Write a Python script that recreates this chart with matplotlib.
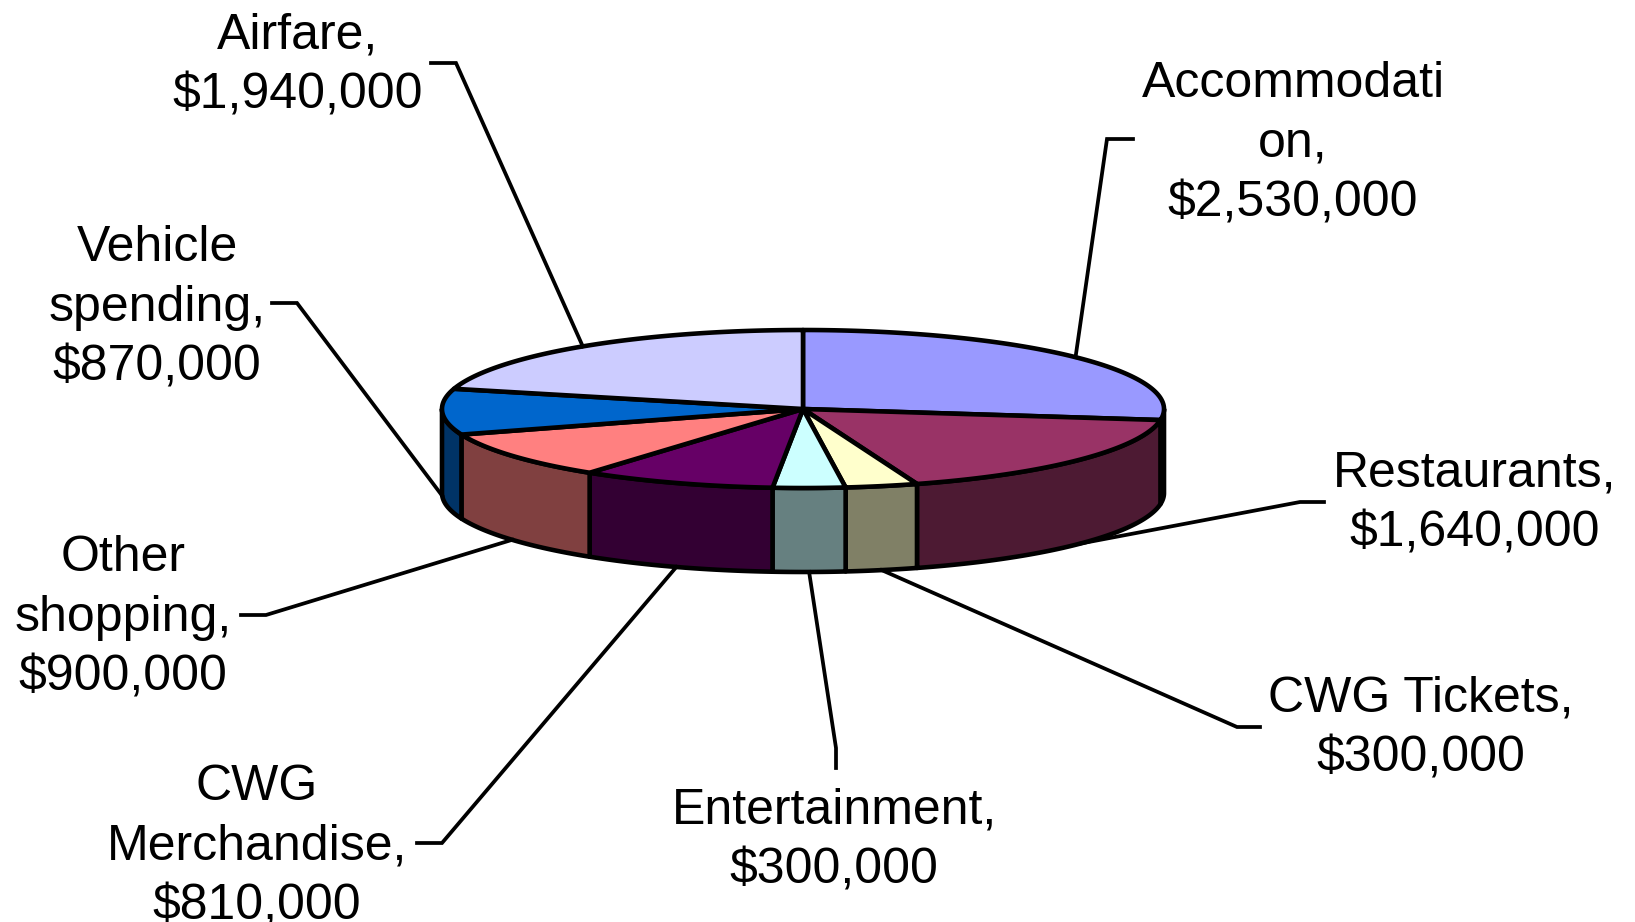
import numpy as np
import matplotlib
matplotlib.use("Agg")
import matplotlib.pyplot as plt
from matplotlib.patches import Polygon

# Visitor spending by category (clockwise from 12 o'clock)
categories = ["Accommodation", "Restaurants", "CWG Tickets", "Entertainment",
              "CWG Merchandise", "Other shopping", "Vehicle spending", "Airfare"]
values = [2530000, 1640000, 300000, 300000, 810000, 900000, 870000, 1940000]
name_lines = [["Accommodati", "on,"], ["Restaurants,"], ["CWG Tickets,"],
              ["Entertainment,"], ["CWG", "Merchandise,"], ["Other", "shopping,"],
              ["Vehicle", "spending,"], ["Airfare,"]]
top_colors = ["#9999FF", "#993366", "#FFFFCC", "#CCFFFF",
              "#660066", "#FF8080", "#0066CC", "#CCCCFF"]

# Layout (canvas units = pixels, y downwards)
W, H = 1635, 922
CX, CY, RX, RY, DEPTH = 803, 409, 361, 79, 84
FS = 36
LINE_GAP = 60
CAP_HALF = 17.6

# label: (centre x, first-line cap-centre y), leader knee points
label_pos = [(1293, 79), (1475, 469), (1421, 694), (834, 806),
             (257, 782), (123, 553), (157, 243), (298, 31)]
leader_knee = [[(1133, 139), (1107, 139)],
               [(1324, 502), (1300, 502)],
               [(1260, 727), (1237, 727)],
               [(836, 768), (836, 748)],
               [(417, 843), (442, 843)],
               [(241, 615), (266, 615)],
               [(272, 303), (297, 303)],
               [(431, 63), (456, 63)]]


def shade(hex_color, f=0.5):
    r, g, b = matplotlib.colors.to_rgb(hex_color)
    return (r * f, g * f, b * f)


def rim(theta_deg, dy=0.0):
    t = np.radians(theta_deg)
    return CX + RX * np.sin(t), CY - RY * np.cos(t) + dy


fig = plt.figure(figsize=(W / 100, H / 100), dpi=100)
ax = fig.add_axes([0, 0, 1, 1])
ax.set_xlim(0, W)
ax.set_ylim(H, 0)
ax.axis("off")

total = float(sum(values))
bounds = np.concatenate([[0], np.cumsum(values)]) / total * 360.0
edge_kw = dict(edgecolor="black", linewidth=3.3, joinstyle="round")

# Side walls of the front half of the disc
for i, col in enumerate(top_colors):
    a0, a1 = max(bounds[i], 90.0), min(bounds[i + 1], 270.0)
    if a1 <= a0:
        continue
    th = np.linspace(a0, a1, 120)
    xt, yt = rim(th)
    xb, yb = rim(th[::-1], DEPTH)
    pts = np.column_stack([np.concatenate([xt, xb]), np.concatenate([yt, yb])])
    ax.add_patch(Polygon(pts, closed=True, facecolor=shade(col), zorder=2, **edge_kw))

# Top face wedges
for i, col in enumerate(top_colors):
    th = np.linspace(bounds[i], bounds[i + 1], 200)
    xt, yt = rim(th)
    pts = np.column_stack([np.concatenate([[CX], xt]), np.concatenate([[CY], yt])])
    ax.add_patch(Polygon(pts, closed=True, facecolor=col, zorder=3, **edge_kw))

# Labels and leader lines
for i, v in enumerate(values):
    lines = name_lines[i] + [f"${v:,.0f}"]
    lx, ly = label_pos[i]
    for k, s in enumerate(lines):
        ax.text(lx, ly + k * LINE_GAP + CAP_HALF, s, ha="center", va="baseline",
                fontsize=FS, family="Liberation Sans", color="black", zorder=5)
    mid = (bounds[i] + bounds[i + 1]) / 2.0
    front = 90.0 < mid < 270.0
    axp, ayp = rim(mid, DEPTH if front else 0.0)
    (k0x, k0y), (k1x, k1y) = leader_knee[i]
    ax.plot([k0x, k1x, axp], [k0y, k1y, ayp], color="black", linewidth=2.7,
            solid_joinstyle="miter", zorder=4)

fig.savefig("out.png", dpi=100, facecolor="white")
